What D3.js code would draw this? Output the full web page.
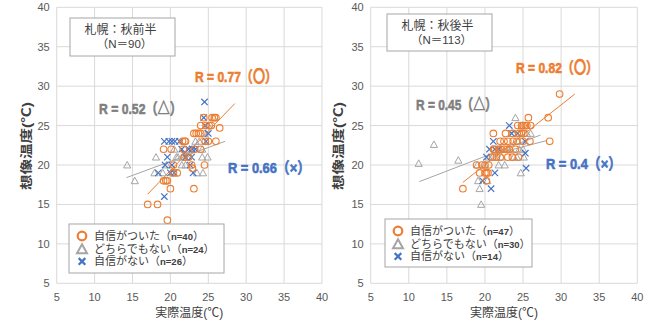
<!DOCTYPE html>
<html>
<head>
<meta charset="utf-8">
<script src="https://cdn.jsdelivr.net/npm/d3@7"></script>
<style>
  body { margin: 0; background: #fff; }
  svg { display: block; }
</style>
</head>
<body>
<script>
// ticks shared by both panels
const ticks = [5, 10, 15, 20, 25, 30, 35, 40];

// 札幌：秋前半
const leftOrange = [[17.0,15],[18.3,15],[19.6,13],[20.0,17],[23.1,17],[19.1,18],[19.6,18],[19.4,18],
  [19.1,22],[20.1,22],[21.7,22],[21.6,23],[21.9,23],[22.0,23],[22.8,20],[24.5,20],[20.4,20],[20.9,19],
  [21.8,21],[22.4,21],[23.1,24],[23.4,24],[23.7,24],[24.0,24],[24.0,25],[24.7,25],[25.1,25],[25.4,25],
  [25.5,26],[25.8,26],[26.0,26],[26.5,24.7],[26.0,23],[24.6,23],[25.0,23],[23.2,22],[24.0,22],[20.4,19],
  [22.9,19.6],[24.4,26]];
const leftGray = [[14.3,20],[15.3,18],[18.1,21],[17.9,19],[19.0,19],[19.5,20],[20.3,19],[20.8,21],
  [21.5,20],[22.0,20],[22.2,21],[22.5,22],[23.3,23],[23.8,23],[24.2,22],[24.2,21],[24.9,21],[24.3,19],
  [23.5,19],[24.5,24],[25.0,25],[25.7,26],[20.5,22],[21.0,21]];
const leftBlue = [[24.5,28],[24.4,26],[24.6,25],[25.0,24],[19.2,23],[19.8,23],[20.2,23],[20.6,23],
  [21.2,23],[19.2,16],[18.4,19],[19.3,20],[19.6,21],[20.0,19],[20.5,19],[22.0,21],[22.4,22],[22.9,22],
  [22.8,21],[23.0,19],[21.8,21.5],[23.3,22],[20.2,20],[21.5,22],[24.7,23],[22.6,20]];
const leftTrends = [
  {color: "#ED7D31", from: [17.0,16.3], to: [28.5,27.8]},
  {color: "#A5A5A5", from: [14.2,18.4], to: [27.2,23.0]}
];

// 札幌：秋後半
const rightOrange = [[17.1,17],[29.8,29],[28.3,26],[28.5,23],[25.7,26],[25.9,23],[25.5,25],[25.0,25],
  [24.8,25],[24.5,24],[24.3,25],[23.7,23],[23.6,24],[22.7,24],[22.5,23],[21.1,24],[21.1,22],[21.8,22],
  [22.1,22],[22.5,22],[22.9,22],[23.2,22],[23.0,21],[24.4,21],[24.0,22],[25.0,23],[25.1,24],[20.0,20],
  [18.9,20],[19.3,19],[20.0,19],[20.2,19],[20.2,18],[19.6,20],[20.4,19],[20.5,20],[21.0,21],[21.5,21],
  [22.0,21],[23.0,23],[24.2,23],[24.8,24],[25.3,25],[22.0,23],[21.3,22],[26.0,25],[23.6,21]];
const rightGray = [[11.3,20.2],[13.3,22.6],[16.5,20.6],[19.1,18],[19.3,17],[19.5,15],[20.3,18],[19.0,20],
  [21.0,21],[21.8,20],[22.6,20],[23.4,22],[24.0,26],[24.2,21],[24.7,19],[25.1,21],[25.5,24],[26.0,24],
  [24.3,23],[23.7,24],[24.8,25],[20.5,21],[22.0,22],[23.0,22],[24.5,22],[21.5,21],[25.0,22],[22.2,21],
  [23.8,21],[20.0,20]];
const rightBlue = [[23.2,25],[23.5,24],[21.1,23],[20.2,21],[21.3,19],[19.7,18],[20.8,17],[25.3,23],
  [25.3,21.5],[25.4,19.6],[21.3,22],[21.8,22],[24.3,24],[20.6,22]];
const rightTrends = [
  {color: "#ED7D31", from: [17.1,17.8], to: [31.8,29.0]},
  {color: "#A5A5A5", from: [11.4,17.9], to: [27.3,23.8]},
  {color: "#A5A5A5", from: [21.0,21.3], to: [28.1,23.1]}
];

const ORANGE = "#ED7D31", GRAY = "#A5A5A5", BLUE = "#4472C4";
const fontJP = "'Liberation Sans', 'Noto Sans CJK JP', sans-serif";

let svg = d3.select("body").append("svg")
    .attr("width", 653)
    .attr("height", 322)
    .style("font-family", fontJP);

function marker(g, type, cx, cy, s, color, sw) {
    if (type === "o") {
        g.append("circle").attr("cx", cx).attr("cy", cy).attr("r", s)
            .attr("fill", "none").attr("stroke", color).attr("stroke-width", sw);
    } else if (type === "t") {
        let h = s * 1.8;
        g.append("path")
            .attr("d", "M" + cx + "," + (cy - h * 0.55) + "L" + (cx + s) + "," + (cy + h * 0.45) +
                "L" + (cx - s) + "," + (cy + h * 0.45) + "Z")
            .attr("fill", "none").attr("stroke", color).attr("stroke-width", sw)
            .attr("stroke-linejoin", "miter");
    } else {
        g.append("path")
            .attr("d", "M" + (cx - s) + "," + (cy - s) + "L" + (cx + s) + "," + (cy + s) +
                "M" + (cx + s) + "," + (cy - s) + "L" + (cx - s) + "," + (cy + s))
            .attr("stroke", color).attr("stroke-width", sw);
    }
}

function drawPanel(p) {
    let x = d3.scaleLinear().domain([5, 40]).range(p.xRange);
    let y = d3.scaleLinear().domain([5, 40]).range([283.3, 7.3]);
    let g = svg.append("g");

    // gridlines
    g.selectAll(".vg").data(ticks).enter().append("line")
        .attr("x1", d => x(d)).attr("x2", d => x(d))
        .attr("y1", y(5)).attr("y2", y(40))
        .attr("stroke", "#D9D9D9").attr("stroke-width", 1);
    g.selectAll(".hg").data(ticks).enter().append("line")
        .attr("x1", x(5)).attr("x2", x(40))
        .attr("y1", d => y(d)).attr("y2", d => y(d))
        .attr("stroke", "#D9D9D9").attr("stroke-width", 1);

    // tick labels
    g.selectAll(".xt").data(ticks).enter().append("text")
        .attr("x", d => x(d)).attr("y", 301)
        .attr("text-anchor", "middle")
        .style("font-size", "11px").attr("fill", "#595959")
        .text(d => d);
    g.selectAll(".yt").data(ticks).enter().append("text")
        .attr("x", x(5) - 7).attr("y", d => y(d) + 4)
        .attr("text-anchor", "end")
        .style("font-size", "11px").attr("fill", "#595959")
        .text(d => d);

    // axis titles
    g.append("text")
        .attr("x", (x(5) + x(40)) / 2).attr("y", 317)
        .attr("text-anchor", "middle")
        .style("font-size", "12px").attr("fill", "#404040")
        .text("実際温度(℃)");
    g.append("text")
        .attr("transform", "translate(" + p.yTitleX + ",146) rotate(-90)")
        .attr("x", -44)
        .style("font-size", "12.5px").style("font-weight", "bold").attr("fill", "#404040")
        .attr("textLength", 88).attr("lengthAdjust", "spacingAndGlyphs")
        .text("想像温度(℃)");

    // trendlines
    p.trends.forEach(t => {
        g.append("line")
            .attr("x1", x(t.from[0])).attr("y1", y(t.from[1]))
            .attr("x2", x(t.to[0])).attr("y2", y(t.to[1]))
            .attr("stroke", t.color).attr("stroke-width", 1);
    });

    // points
    p.gray.forEach(d => marker(g, "t", x(d[0]), y(d[1]), 3.6, GRAY, 1));
    p.blue.forEach(d => marker(g, "x", x(d[0]), y(d[1]), 3.2, BLUE, 1.2));
    p.orange.forEach(d => marker(g, "o", x(d[0]), y(d[1]), 3.3, ORANGE, 1.1));

    // title box
    let tb = p.titleBox;
    g.append("rect").attr("x", tb[0]).attr("y", tb[1]).attr("width", tb[2]).attr("height", tb[3])
        .attr("fill", "#fff").attr("stroke", "#A6A6A6").attr("stroke-width", 1);
    g.append("text").attr("x", tb[0] + tb[2] / 2 - 2).attr("y", tb[1] + 16)
        .attr("text-anchor", "middle").style("font-size", "12px").attr("fill", "#404040")
        .text(p.title);
    g.append("text").attr("x", tb[0] + tb[2] / 2 + 2).attr("y", tb[1] + 30)
        .attr("text-anchor", "middle").style("font-size", "11.5px").attr("fill", "#404040")
        .text(p.subtitle);

    // R labels
    p.rLabels.forEach(r => {
        g.append("text").attr("x", r.x).attr("y", r.y + 5.5)
            .style("font-size", "15.5px").style("font-weight", "bold")
            .attr("fill", r.color).attr("stroke", r.color).attr("stroke-width", 0.6)
            .attr("textLength", r.w).attr("lengthAdjust", "spacingAndGlyphs")
            .text(r.text);
    });

    // legend
    let lb = p.legendBox;
    g.append("rect").attr("x", lb[0]).attr("y", lb[1]).attr("width", lb[2]).attr("height", lb[3])
        .attr("fill", "#fff").attr("stroke", "#A6A6A6").attr("stroke-width", 1);
    let cols = [ORANGE, GRAY, BLUE];
    p.legendText.forEach((t, i) => {
        let ly = lb[1] + 12 + i * 12.7;
        if (i === 0) marker(g, "o", lb[0] + 13, ly, 4.3, cols[i], 2.2);
        if (i === 1) marker(g, "t", lb[0] + 13, ly + 0.5, 5, cols[i], 2);
        if (i === 2) marker(g, "x", lb[0] + 13, ly, 3.3, cols[i], 2.2);
        let tx = g.append("text").attr("x", lb[0] + 25).attr("y", ly + 4)
            .style("font-size", "11px").attr("fill", "#404040");
        tx.append("tspan").text(t[0] + "（");
        tx.append("tspan").style("font-size", "9.5px").style("font-weight", "bold").text(t[1]);
        tx.append("tspan").text("）");
    });
}

drawPanel({
    xRange: [56.7, 322],
    yTitleX: 31,
    orange: leftOrange, gray: leftGray, blue: leftBlue,
    trends: leftTrends,
    titleBox: [70, 18, 105, 38],
    title: "札幌：秋前半", subtitle: "（N＝90）",
    rLabels: [
        {text: "R = 0.77（〇）", x: 195, y: 76, w: 82, color: ORANGE},
        {text: "R = 0.52（△）", x: 99, y: 108, w: 83, color: "#7F7F7F"},
        {text: "R = 0.66（×）", x: 228, y: 167, w: 82, color: BLUE}
    ],
    legendBox: [69, 224, 155, 49],
    legendText: [["自信がついた", "n=40"], ["どちらでもない", "n=24"], ["自信がない", "n=26"]]
});

drawPanel({
    xRange: [370.7, 637.3],
    yTitleX: 343,
    orange: rightOrange, gray: rightGray, blue: rightBlue,
    trends: rightTrends,
    titleBox: [387, 14, 105, 37],
    title: "札幌：秋後半", subtitle: "（N＝113）",
    rLabels: [
        {text: "R = 0.82（〇）", x: 516, y: 67, w: 82, color: ORANGE},
        {text: "R = 0.45（△）", x: 416, y: 104, w: 81, color: "#7F7F7F"},
        {text: "R = 0.4（×）", x: 546, y: 163, w: 75, color: BLUE}
    ],
    legendBox: [385, 219, 147, 48],
    legendText: [["自信がついた", "n=47"], ["どちらでもない", "n=30"], ["自信がない", "n=14"]]
});
</script>
</body>
</html>
